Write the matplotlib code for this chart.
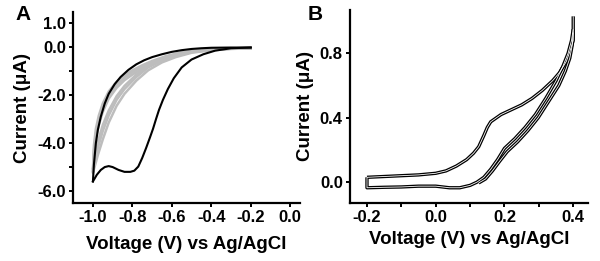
import matplotlib
matplotlib.use("Agg")
import matplotlib.pyplot as plt
from matplotlib.ticker import FixedLocator

plt.rcParams["font.family"] = ["Liberation Sans", "DejaVu Sans"]
plt.rcParams["font.weight"] = "bold"
plt.rcParams["axes.unicode_minus"] = False

# ---- Panel A: first scan (black) ----
a_fwd_v = [-0.20, -0.30, -0.38, -0.44, -0.50, -0.55, -0.59, -0.62, -0.645, -0.665, -0.68, -0.695,
           -0.71, -0.73, -0.75, -0.77, -0.79, -0.81, -0.84, -0.87, -0.90, -0.92, -0.94, -0.96, -0.98, -1.00]
a_fwd_i = [-0.02, -0.05, -0.15, -0.30, -0.52, -0.85, -1.30, -1.75, -2.20, -2.62, -3.00, -3.40,
           -3.75, -4.20, -4.62, -4.98, -5.15, -5.20, -5.20, -5.12, -5.00, -4.96, -5.00, -5.12, -5.32, -5.60]
a_rev_v = [-1.00, -0.995, -0.985, -0.975, -0.96, -0.94, -0.92, -0.89, -0.86, -0.82, -0.78,
           -0.74, -0.70, -0.65, -0.60, -0.55, -0.50, -0.45, -0.40, -0.30, -0.20]
a_rev_i = [-5.60, -4.90, -4.00, -3.45, -2.90, -2.35, -1.95, -1.55, -1.25, -0.95, -0.72,
           -0.55, -0.42, -0.30, -0.20, -0.13, -0.08, -0.05, -0.03, -0.02, -0.02]

# ---- Panel A: later scans (grey) ----
g1_v = [-0.20, -0.30, -0.40, -0.50, -0.58, -0.65, -0.72, -0.78, -0.84, -0.88, -0.92, -0.95, -0.975, -0.99, -1.00,
        -0.995, -0.985, -0.97, -0.95, -0.92, -0.88, -0.84, -0.80, -0.75, -0.70, -0.63, -0.55, -0.45, -0.35, -0.20]
g1_i = [-0.04, -0.07, -0.12, -0.21, -0.36, -0.56, -0.85, -1.25, -1.75, -2.20, -2.85, -3.50, -4.20, -4.75, -5.20,
        -4.40, -3.80, -3.25, -2.70, -2.15, -1.70, -1.38, -1.15, -0.90, -0.68, -0.44, -0.25, -0.14, -0.08, -0.05]
g2_v = [-0.20, -0.30, -0.40, -0.50, -0.58, -0.65, -0.72, -0.78, -0.84, -0.88, -0.92, -0.95, -0.975, -0.99, -1.00,
        -0.995, -0.985, -0.97, -0.95, -0.92, -0.88, -0.84, -0.80, -0.75, -0.70, -0.63, -0.55, -0.45, -0.35, -0.20]
g2_i = [-0.05, -0.08, -0.13, -0.24, -0.42, -0.64, -0.97, -1.40, -1.95, -2.45, -3.15, -3.85, -4.50, -4.95, -5.25,
        -4.30, -3.60, -3.05, -2.55, -2.00, -1.58, -1.28, -1.05, -0.82, -0.62, -0.40, -0.23, -0.13, -0.08, -0.05]
g3_v = [-0.20, -0.30, -0.40, -0.50, -0.58, -0.65, -0.72, -0.78, -0.84, -0.88, -0.92, -0.95, -0.975, -0.99, -1.00,
        -0.995, -0.985, -0.97, -0.95, -0.92, -0.88, -0.84, -0.80, -0.75, -0.70, -0.63, -0.55, -0.45, -0.35, -0.20]
g3_i = [-0.04, -0.06, -0.11, -0.19, -0.32, -0.50, -0.78, -1.15, -1.62, -2.05, -2.65, -3.25, -3.95, -4.60, -5.10,
        -4.10, -3.40, -2.85, -2.35, -1.85, -1.45, -1.18, -0.97, -0.76, -0.58, -0.38, -0.22, -0.12, -0.07, -0.04]

# ---- Panel B ----
b_fwd_v = [-0.20, -0.15, -0.10, -0.05, 0.00, 0.03, 0.06, 0.09, 0.11, 0.125, 0.14, 0.15, 0.16, 0.17,
           0.19, 0.22, 0.25, 0.28, 0.31, 0.34, 0.36, 0.38, 0.39, 0.40, 0.40]
b_fwd_i = [0.03, 0.035, 0.04, 0.045, 0.055, 0.07, 0.10, 0.14, 0.18, 0.22, 0.29, 0.34, 0.375, 0.39,
           0.42, 0.45, 0.48, 0.52, 0.57, 0.63, 0.68, 0.75, 0.81, 0.88, 1.03]
b_rev1_v = [0.40, 0.395, 0.385, 0.37, 0.35, 0.32, 0.29, 0.26, 0.23, 0.20, 0.18, 0.16, 0.14, 0.12,
            0.10, 0.07, 0.04, 0.00, -0.05, -0.10, -0.15, -0.20, -0.20]
b_rev1_i = [0.95, 0.88, 0.80, 0.72, 0.63, 0.52, 0.42, 0.34, 0.27, 0.21, 0.14, 0.08, 0.03, 0.00,
            -0.02, -0.035, -0.035, -0.025, -0.025, -0.03, -0.032, -0.035, 0.03]
b_rev2_v = [0.40, 0.397, 0.39, 0.377, 0.358, 0.328, 0.298, 0.268, 0.238, 0.208, 0.186, 0.165, 0.145, 0.125]
b_rev2_i = [0.93, 0.85, 0.77, 0.69, 0.60, 0.50, 0.40, 0.32, 0.25, 0.19, 0.13, 0.07, 0.02, -0.005]

fig = plt.figure(figsize=(6.0, 2.61), dpi=100)
axA = fig.add_axes([0.122, 0.222, 0.378, 0.732])
axB = fig.add_axes([0.583, 0.222, 0.397, 0.740])

grey = "#bdbdbd"
for v, i in [(g2_v, g2_i), (g1_v, g1_i), (g3_v, g3_i)]:
    axA.plot(v, i, color=grey, lw=1.8, zorder=2)
axA.plot(a_fwd_v, a_fwd_i, color="black", lw=1.5, zorder=3)
axA.plot(a_rev_v, a_rev_i, color="black", lw=1.5, zorder=3)

for v, i in [(b_fwd_v, b_fwd_i), (b_rev1_v, b_rev1_i), (b_rev2_v, b_rev2_i)]:
    axB.plot(v, i, color="black", lw=2.4, solid_capstyle="butt", zorder=2)
    axB.plot(v, i, color="white", lw=0.6, solid_capstyle="butt", zorder=3)

for ax in (axA, axB):
    for s in ("top", "right"):
        ax.spines[s].set_visible(False)
    for s in ("left", "bottom"):
        ax.spines[s].set_linewidth(1.6)
    ax.tick_params(direction="out", length=3, width=1.4, labelsize=12, pad=2)
    ax.tick_params(which="minor", direction="out", length=3, width=1.4)

tick_font = dict(fontweight="bold", fontsize=12)
axA.set_xlim(-1.10, 0.05)
axA.set_ylim(-6.5, 1.46)
axA.set_xticks([-1.0, -0.8, -0.6, -0.4, -0.2, 0.0])
axA.set_xticklabels(["-1.0", "-0.8", "-0.6", "-0.4", "-0.2", "0.0"], **tick_font)
axA.set_yticks([1.0, 0.0, -2.0, -4.0, -6.0])
axA.set_yticklabels(["1.0", "0.0", "-2.0", "-4.0", "-6.0"], **tick_font)
axA.yaxis.set_minor_locator(FixedLocator([-1.0, -3.0, -5.0]))
axA.set_xlabel("Voltage (V) vs Ag/AgCl", fontsize=13.5, fontweight="bold", labelpad=8)
axA.set_ylabel("Current (μA)", fontsize=13.5, fontweight="bold", labelpad=5)

axB.set_xlim(-0.25, 0.443)
axB.set_ylim(-0.13, 1.07)
axB.set_xticks([-0.2, 0.0, 0.2, 0.4])
axB.set_xticklabels(["-0.2", "0.0", "0.2", "0.4"], **tick_font)
axB.xaxis.set_minor_locator(FixedLocator([-0.1, 0.1, 0.3]))
axB.set_yticks([0.0, 0.4, 0.8])
axB.set_yticklabels(["0.0", "0.4", "0.8"], **tick_font)
axB.set_xlabel("Voltage (V) vs Ag/AgCl", fontsize=13.5, fontweight="bold", labelpad=4)
axB.set_ylabel("Current (μA)", fontsize=13.5, fontweight="bold", labelpad=4)

fig.text(0.025, 0.945, "A", fontsize=15, fontweight="bold", va="center")
fig.text(0.512, 0.945, "B", fontsize=15, fontweight="bold", va="center")

fig.savefig("out.png", dpi=100)
